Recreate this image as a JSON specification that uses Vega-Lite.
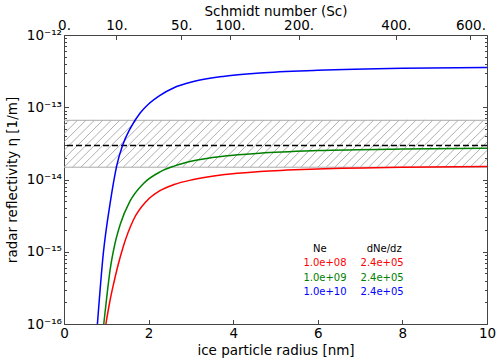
{
  "$schema": "https://vega.github.io/schema/vega-lite/v6.json",
  "width": 423,
  "height": 289,
  "autosize": {"type": "none"},
  "padding": {"left": 64, "top": 35, "right": 13, "bottom": 39},
  "config": {
    "font": "DejaVu Sans",
    "view": {"stroke": "#444444", "strokeWidth": 1},
    "axis": {
      "labelFont": "DejaVu Sans",
      "titleFont": "DejaVu Sans",
      "labelFontSize": 13.5,
      "titleFontSize": 13.5,
      "titleFontWeight": "normal",
      "labelColor": "#000000",
      "titleColor": "#000000",
      "tickColor": "#444444",
      "domain": false,
      "grid": false,
      "labelFlush": false,
      "labelOverlap": false
    }
  },
  "datasets": {
    "curves": [
      {"series": "1e8", "r": 0.99, "eta": 1.0e-16},
      {"series": "1e8", "r": 1.08, "eta": 2.0e-16},
      {"series": "1e8", "r": 1.17, "eta": 3.55e-16},
      {"series": "1e8", "r": 1.28, "eta": 6.61e-16},
      {"series": "1e8", "r": 1.40, "eta": 1.175e-15},
      {"series": "1e8", "r": 1.64, "eta": 2.754e-15},
      {"series": "1e8", "r": 1.95, "eta": 5.01e-15},
      {"series": "1e8", "r": 2.27, "eta": 7.0e-15},
      {"series": "1e8", "r": 2.6, "eta": 8.51e-15},
      {"series": "1e8", "r": 3.06, "eta": 1.0e-14},
      {"series": "1e8", "r": 3.8, "eta": 1.175e-14},
      {"series": "1e8", "r": 4.63, "eta": 1.288e-14},
      {"series": "1e8", "r": 6.0, "eta": 1.396e-14},
      {"series": "1e8", "r": 8.0, "eta": 1.479e-14},
      {"series": "1e8", "r": 10.0, "eta": 1.514e-14},
      {"series": "1e9", "r": 0.94, "eta": 1.0e-16},
      {"series": "1e9", "r": 1.02, "eta": 2.63e-16},
      {"series": "1e9", "r": 1.09, "eta": 5.62e-16},
      {"series": "1e9", "r": 1.2, "eta": 1.26e-15},
      {"series": "1e9", "r": 1.33, "eta": 2.40e-15},
      {"series": "1e9", "r": 1.56, "eta": 5.01e-15},
      {"series": "1e9", "r": 1.88, "eta": 8.81e-15},
      {"series": "1e9", "r": 2.27, "eta": 1.274e-14},
      {"series": "1e9", "r": 2.6, "eta": 1.531e-14},
      {"series": "1e9", "r": 3.06, "eta": 1.82e-14},
      {"series": "1e9", "r": 3.8, "eta": 2.113e-14},
      {"series": "1e9", "r": 4.63, "eta": 2.317e-14},
      {"series": "1e9", "r": 6.0, "eta": 2.512e-14},
      {"series": "1e9", "r": 8.0, "eta": 2.642e-14},
      {"series": "1e9", "r": 10.0, "eta": 2.704e-14},
      {"series": "1e10", "r": 0.79, "eta": 1.0e-16},
      {"series": "1e10", "r": 0.93, "eta": 9.55e-16},
      {"series": "1e10", "r": 1.09, "eta": 4.68e-15},
      {"series": "1e10", "r": 1.25, "eta": 1.585e-14},
      {"series": "1e10", "r": 1.39, "eta": 3.02e-14},
      {"series": "1e10", "r": 1.56, "eta": 5.01e-14},
      {"series": "1e10", "r": 1.80, "eta": 8.32e-14},
      {"series": "1e10", "r": 2.0, "eta": 1.109e-13},
      {"series": "1e10", "r": 2.27, "eta": 1.462e-13},
      {"series": "1e10", "r": 2.6, "eta": 1.862e-13},
      {"series": "1e10", "r": 3.06, "eta": 2.265e-13},
      {"series": "1e10", "r": 3.8, "eta": 2.69e-13},
      {"series": "1e10", "r": 4.63, "eta": 2.985e-13},
      {"series": "1e10", "r": 6.0, "eta": 3.25e-13},
      {"series": "1e10", "r": 8.0, "eta": 3.467e-13},
      {"series": "1e10", "r": 10.0, "eta": 3.548e-13}
    ],
    "hatch": [
      {"a": -1.0}, {"a": -0.8}, {"a": -0.6}, {"a": -0.4}, {"a": -0.2},
      {"a": 0.0}, {"a": 0.2}, {"a": 0.4}, {"a": 0.6}, {"a": 0.8},
      {"a": 1.0}, {"a": 1.2}, {"a": 1.4}, {"a": 1.6}, {"a": 1.8},
      {"a": 2.0}, {"a": 2.2}, {"a": 2.4}, {"a": 2.6}, {"a": 2.8},
      {"a": 3.0}, {"a": 3.2}, {"a": 3.4}, {"a": 3.6}, {"a": 3.8},
      {"a": 4.0}, {"a": 4.2}, {"a": 4.4}, {"a": 4.6}, {"a": 4.8},
      {"a": 5.0}, {"a": 5.2}, {"a": 5.4}, {"a": 5.6}, {"a": 5.8},
      {"a": 6.0}, {"a": 6.2}, {"a": 6.4}, {"a": 6.6}, {"a": 6.8},
      {"a": 7.0}, {"a": 7.2}, {"a": 7.4}, {"a": 7.6}, {"a": 7.8},
      {"a": 8.0}, {"a": 8.2}, {"a": 8.4}, {"a": 8.6}, {"a": 8.8},
      {"a": 9.0}, {"a": 9.2}, {"a": 9.4}, {"a": 9.6}, {"a": 9.8},
      {"a": 10.0}
    ],
    "band": [{"edge": "lo", "eta": 1.48e-14}, {"edge": "hi", "eta": 6.6e-14}],
    "dashed": [{"eta": 2.95e-14}],
    "labels": [
      {"label": "Ne", "series": "header", "r": 6.05, "eta": 1.08e-15},
      {"label": "dNe/dz", "series": "header", "r": 7.57, "eta": 1.08e-15},
      {"label": "1.0e+08", "series": "1e8", "r": 6.17, "eta": 6.9e-16},
      {"label": "2.4e+05", "series": "1e8", "r": 7.52, "eta": 6.9e-16},
      {"label": "1.0e+09", "series": "1e9", "r": 6.17, "eta": 4.37e-16},
      {"label": "2.4e+05", "series": "1e9", "r": 7.52, "eta": 4.37e-16},
      {"label": "1.0e+10", "series": "1e10", "r": 6.17, "eta": 2.77e-16},
      {"label": "2.4e+05", "series": "1e10", "r": 7.52, "eta": 2.77e-16}
    ]
  },
  "resolve": {"axis": {"x": "independent", "y": "independent"}},
  "layer": [
    {
      "data": {"name": "hatch"},
      "mark": {"type": "rule", "color": "#9a9a9a", "strokeWidth": 0.8, "clip": true, "x2Offset": 47.3},
      "encoding": {
        "x": {
          "field": "a", "type": "quantitative",
          "scale": {"domain": [0, 10], "nice": false, "zero": false},
          "axis": {
            "orient": "top",
            "title": "Schmidt number (Sc)",
            "titleX": 211.5, "titleY": -20, "titleBaseline": "alphabetic",
            "values": [0, 1.240, 2.774, 3.922, 5.547, 7.845, 9.608],
            "labelExpr": "datum.value < 0.5 ? '0.' : datum.value < 2 ? '10.' : datum.value < 3.3 ? '50.' : datum.value < 4.5 ? '100.' : datum.value < 6.5 ? '200.' : datum.value < 8.5 ? '400.' : '600.'",
            "tickSize": -4.5,
            "labelPadding": 7
          }
        },
        "x2": {"field": "a"},
        "y": {
          "datum": 1.48e-14, "type": "quantitative",
          "scale": {"type": "log", "domain": [1e-16, 1e-12], "nice": false},
          "axis": {
            "orient": "left",
            "title": null,
            "labels": false,
            "tickSize": -2.5,
            "values": [2e-16, 3e-16, 4e-16, 5e-16, 6e-16, 7e-16, 8e-16, 9e-16, 2e-15, 3e-15, 4e-15, 5e-15, 6e-15, 7e-15, 8e-15, 9e-15, 2e-14, 3e-14, 4e-14, 5e-14, 6e-14, 7e-14, 8e-14, 9e-14, 2e-13, 3e-13, 4e-13, 5e-13, 6e-13, 7e-13, 8e-13, 9e-13]
          }
        },
        "y2": {"datum": 6.6e-14}
      }
    },
    {
      "data": {"name": "band"},
      "mark": {"type": "rule", "color": "#aaaaaa", "strokeWidth": 1},
      "encoding": {
        "y": {
          "field": "eta", "type": "quantitative",
          "scale": {"type": "log", "domain": [1e-16, 1e-12], "nice": false},
          "axis": {
            "orient": "right",
            "title": null,
            "labels": false,
            "tickSize": -4.5,
            "values": [1e-16, 1e-15, 1e-14, 1e-13, 1e-12]
          }
        }
      }
    },
    {
      "data": {"name": "dashed"},
      "mark": {"type": "rule", "color": "#000000", "strokeWidth": 1.5, "strokeDash": [6, 3]},
      "encoding": {
        "y": {
          "field": "eta", "type": "quantitative",
          "scale": {"type": "log", "domain": [1e-16, 1e-12], "nice": false},
          "axis": {
            "orient": "right",
            "title": null,
            "labels": false,
            "tickSize": -2.5,
            "values": [2e-16, 3e-16, 4e-16, 5e-16, 6e-16, 7e-16, 8e-16, 9e-16, 2e-15, 3e-15, 4e-15, 5e-15, 6e-15, 7e-15, 8e-15, 9e-15, 2e-14, 3e-14, 4e-14, 5e-14, 6e-14, 7e-14, 8e-14, 9e-14, 2e-13, 3e-13, 4e-13, 5e-13, 6e-13, 7e-13, 8e-13, 9e-13]
          }
        }
      }
    },
    {
      "data": {"name": "curves"},
      "mark": {"type": "line", "strokeWidth": 1.5, "interpolate": "monotone"},
      "encoding": {
        "x": {
          "field": "r", "type": "quantitative",
          "scale": {"domain": [0, 10], "nice": false, "zero": false},
          "axis": {
            "orient": "bottom",
            "title": "ice particle radius [nm]",
            "titleX": 211.5, "titleY": 30, "titleBaseline": "alphabetic",
            "values": [0, 2, 4, 6, 8, 10],
            "format": "d",
            "tickSize": -4.5,
            "labelPadding": 7
          }
        },
        "y": {
          "field": "eta", "type": "quantitative",
          "scale": {"type": "log", "domain": [1e-16, 1e-12], "nice": false},
          "axis": {
            "orient": "left",
            "title": "radar reflectivity  η  [1/m]",
            "titleX": -51.5, "titleY": 144.5, "titleBaseline": "middle", "titleAngle": -90,
            "values": [1e-16, 1e-15, 1e-14, 1e-13, 1e-12],
            "labelExpr": "round(log(datum.value)/LN10) == -12 ? '10⁻¹²' : round(log(datum.value)/LN10) == -13 ? '10⁻¹³' : round(log(datum.value)/LN10) == -14 ? '10⁻¹⁴' : round(log(datum.value)/LN10) == -15 ? '10⁻¹⁵' : '10⁻¹⁶'",
            "tickSize": -4.5,
            "labelPadding": 7
          }
        },
        "color": {
          "field": "series", "type": "nominal",
          "scale": {"domain": ["header", "1e8", "1e9", "1e10"], "range": ["#000000", "#ff0000", "#008000", "#0000ff"]},
          "legend": null
        }
      }
    },
    {
      "data": {"name": "labels"},
      "mark": {"type": "text", "fontSize": 10, "align": "center", "baseline": "middle"},
      "encoding": {
        "x": {"field": "r", "type": "quantitative", "scale": {"domain": [0, 10], "nice": false, "zero": false}, "axis": null},
        "y": {"field": "eta", "type": "quantitative", "scale": {"type": "log", "domain": [1e-16, 1e-12], "nice": false}, "axis": null},
        "text": {"field": "label"},
        "color": {
          "field": "series", "type": "nominal",
          "scale": {"domain": ["header", "1e8", "1e9", "1e10"], "range": ["#000000", "#ff0000", "#008000", "#0000ff"]},
          "legend": null
        }
      }
    }
  ]
}
